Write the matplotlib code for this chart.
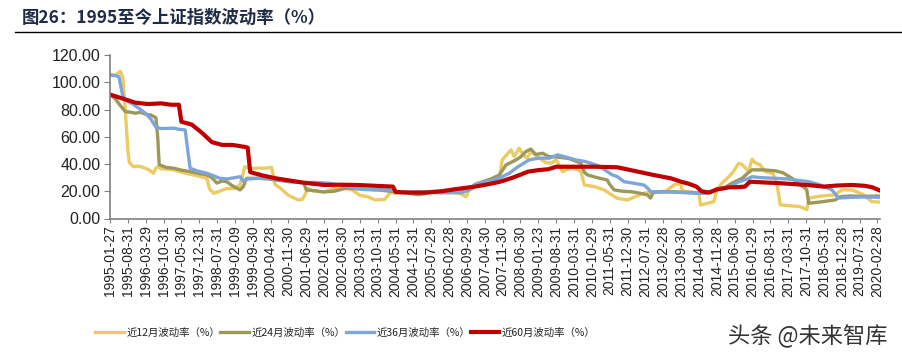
import matplotlib
matplotlib.use("Agg")
import matplotlib.pyplot as plt
from matplotlib.lines import Line2D

# ---- data (x = month index, 0 = 1995-01) ----
tick_labels = ["1995-01-27", "1995-08-31", "1996-03-29", "1996-10-31", "1997-05-30", "1997-12-31",
               "1998-07-31", "1999-02-09", "1999-09-30", "2000-04-28", "2000-11-30", "2001-06-29",
               "2002-01-31", "2002-08-30", "2003-03-31", "2003-10-31", "2004-05-31", "2004-12-31",
               "2005-07-29", "2006-02-28", "2006-09-29", "2007-04-30", "2007-11-30", "2008-06-30",
               "2009-01-23", "2009-08-31", "2010-03-31", "2010-10-29", "2011-05-31", "2011-12-30",
               "2012-07-31", "2013-02-28", "2013-09-30", "2014-04-30", "2014-11-28", "2015-06-30",
               "2016-01-29", "2016-08-31", "2017-03-31", "2017-10-31", "2018-05-31", "2018-12-28",
               "2019-07-31", "2020-02-28"]
tick_pos = [7 * i for i in range(len(tick_labels))]

series_names = ["近12月波动率（%）", "近24月波动率（%）", "近36月波动率（%）", "近60月波动率（%）"]

vol12_x = [0, 2, 4, 5, 6, 7, 7.6, 9.3, 11, 13, 15, 17.1, 18, 19, 20, 24.9, 28, 31.4, 35, 38, 39, 40.6, 43,
           45.8, 49, 51, 52.9, 55, 58, 61.4, 63.4, 64.7, 67, 70, 73.8, 75.5, 77.7, 80, 84, 88, 92, 95, 98,
           101, 104, 107.7, 110, 112, 115, 125, 132, 137, 139.7, 141, 144, 148, 152.7, 153.8, 157.3, 158.5,
           160.5, 162, 163.5, 165.1, 168.4, 171, 173, 175, 177.5, 180.8, 183, 184.7, 186, 190, 193.8, 197,
           199, 203, 206, 209.4, 213, 218, 221.2, 223.8, 224.5, 228, 231, 231.6, 234, 236.8, 238, 240, 241.4,
           244, 246.6, 248, 250.5, 251.8, 253, 255, 257, 260, 261.6, 262.9, 266, 270.7, 273.3, 274.3, 279,
           284.4, 287, 291, 295, 298.8, 302]
vol12_y = [106, 105, 108, 104, 80, 50, 41, 38, 38.5, 37.5, 36, 33.2, 37, 38, 36.5, 35.7, 34, 32.5, 31, 29.5,
           22, 18.5, 20, 22, 22, 24.6, 38, 36.5, 37, 37, 37.5, 25, 22, 17, 13.6, 14, 22, 20, 19.5, 22, 23.4,
           21, 17, 16, 13.6, 14, 19, 18.5, 19, 19, 19.5, 18.5, 16, 22, 26, 28, 29.5, 43, 50.4, 45.5, 51.6, 47,
           44.3, 49.1, 44.3, 41, 40.6, 43, 34.4, 37, 36, 34.4, 24.6, 23.4, 21, 17, 14.8, 13.6, 16, 18.5, 19.5,
           20, 24.6, 25.9, 20, 19.5, 18.5, 9.9, 11, 12.4, 21, 26, 28.3, 33.2, 40.6, 39.5, 34.4, 43.5, 41, 39.3,
           34.4, 33, 25, 10, 9.5, 8.7, 6.5, 15, 16.5, 17.3, 21, 21, 18, 12.4, 12]

vol24_x = [0, 2, 4, 6, 8, 10, 12, 14, 16, 18, 18.7, 19.3, 22, 25, 28, 31.4, 35, 38, 40, 41.9, 44, 45.8, 48, 51,
           52.3, 53.2, 53.6, 58, 62, 66, 70, 74, 76, 77, 80, 84, 88, 92, 95, 100, 105, 110, 115, 121, 126,
           132, 138, 142, 146.2, 150, 152.7, 155.3, 159.2, 161.2, 163.1, 165, 167, 169.7, 172, 176, 180,
           184.7, 186, 187.3, 191, 195, 196, 197.7, 201, 204.2, 208, 210.8, 212, 213, 216, 222, 228, 233, 238,
           241.4, 244, 247.9, 250, 251.8, 256, 261, 264, 267.5, 270.7, 272.5, 273.3, 274, 278, 282, 284.4,
           286.4, 290, 296, 302]
vol24_y = [91, 88, 83, 78.5, 78, 77.3, 78, 76.5, 76, 74, 60, 39.5, 37.5, 36.9, 35.5, 34.4, 33, 32, 30, 26,
           27.5, 27, 24, 21, 23.4, 28, 29.5, 29.5, 29, 28, 27, 26.5, 26, 21, 20.5, 19.5, 20, 22, 22, 21.5, 21,
           20, 19, 17.5, 19, 19, 19.5, 22, 27, 29.5, 32, 39.3, 43, 45.4, 49.1, 51, 47, 47.9, 45.5, 45, 44,
           40.6, 34, 32, 30, 28.3, 25, 21, 20, 19.7, 18.5, 17.3, 15, 19, 19.7, 19.5, 19, 18.5, 21, 23, 26,
           29.5, 33, 35.7, 35.7, 35, 33.5, 29.5, 24.6, 22.5, 21, 11.2, 12, 13, 13.6, 16, 16.5, 16.3, 16.5]

vol36_x = [0, 2, 3.5, 5, 6, 9, 12, 14, 16, 18, 20, 25, 27, 29.5, 30.5, 31.4, 34, 38, 41, 43, 46, 49, 51, 52.3,
           54, 58, 61, 66, 72, 76, 80, 85.6, 92, 98.6, 104, 109, 112, 114, 122, 130, 138, 141, 143, 147, 152,
           156.6, 160, 164.4, 168, 172.3, 175.5, 179, 182.7, 186, 188.6, 192.5, 194, 197, 199, 201.6, 205,
           209.4, 211, 212, 215, 220, 225, 230, 232.9, 236, 238, 241.4, 243.3, 246.6, 250, 251.8, 255, 261,
           266, 270, 274, 278, 280, 283.1, 284.5, 285.7, 290, 295, 302]
vol36_y = [105, 105, 104, 90, 87, 84, 80, 77, 73, 67, 66, 66.3, 65.5, 65, 50, 37, 35, 33.2, 31, 29.5, 29, 30,
           30.7, 27.5, 29, 29.5, 29.5, 28.5, 27, 26.3, 26.5, 25.9, 24, 21.4, 21, 21, 20, 19, 19.6, 19, 19, 21,
           25, 27, 29, 33.2, 38, 43, 44.3, 44.3, 46.7, 45, 43, 42, 40.6, 38, 35.7, 32, 30.7, 27, 26, 24.6, 22,
           19.7, 19.5, 19.5, 19, 18.5, 18.5, 19.5, 21, 22.2, 23.4, 27, 29, 30.7, 30, 29.5, 29, 28, 27, 25,
           23.5, 21, 18, 15, 15.5, 15.8, 15.6]

vol60_x = [0, 5, 10, 15, 20, 24, 27, 28, 32, 36, 40, 44, 48, 53, 54, 55, 60, 65, 70, 76, 84, 90, 97, 104, 111,
           112, 118, 123, 130, 135, 143, 148, 153, 158, 164, 168, 172, 175, 180, 190, 199, 203, 207, 213, 220,
           224, 227, 230, 232, 235, 238, 243, 246, 249, 251, 256, 262, 267, 274, 280, 285, 291, 296, 299, 302]
vol60_y = [91, 88, 85, 84, 84.5, 83.5, 83.5, 71, 69, 63, 56, 54, 54, 52.5, 52, 34, 31.5, 29.5, 28, 26.3,
           24.6, 24.8, 24.6, 24, 23.4, 19.5, 19, 19, 20, 21.4, 23.4, 25, 27, 30, 34.4, 35.5, 36.2, 38, 38, 38,
           37.6, 36, 34.4, 32, 29.5, 27, 25.5, 23.4, 20, 19, 21.4, 22.9, 23, 23.4, 27, 26.5, 26, 25.4, 24.5,
           23.4, 24.2, 24.6, 24, 22.9, 20.5]

y_ticks = [0, 20, 40, 60, 80, 100, 120]

colors = ["#EDCB62", "#9C9859", "#7EA5DA", "#C00000"]
widths = [2.4, 2.4, 2.4, 3.0]

# ---- figure ----
plt.rcParams['font.family'] = ['Liberation Sans', 'DejaVu Sans']
fig = plt.figure(figsize=(9.02, 3.61), dpi=100)
ax = fig.add_axes([110 / 902, 1 - 218.5 / 361, 770 / 902, 163.5 / 361])

xs = [vol12_x, vol24_x, vol36_x, vol60_x]
ys = [vol12_y, vol24_y, vol36_y, vol60_y]
handles = []
for x, y, c, w, n in zip(xs, ys, colors, widths, series_names):
    h, = ax.plot(x, y, color=c, lw=w, label=n, solid_joinstyle='round')
    handles.append(h)

ax.set_xlim(0, 302)
ax.set_ylim(0, 120)
ax.set_yticks(y_ticks)
ax.set_yticklabels([f"{v:.2f}" for v in y_ticks], fontsize=11.5, color="#222222")
ax.set_xticks(tick_pos)
ax.set_xticklabels(tick_labels, rotation=90, fontsize=10, color="#222222")
for s in ["top", "right"]:
    ax.spines[s].set_visible(False)
for s in ["left", "bottom"]:
    ax.spines[s].set_color("#808080")
    ax.spines[s].set_linewidth(1.2)
ax.tick_params(axis='y', length=4, color="#808080", pad=3)
ax.tick_params(axis='x', length=3, color="#808080", pad=2)

# title and rule
fig.text(22 / 902, 1 - 18 / 361, "图26：1995至今上证指数波动率（%）", fontsize=12.5, fontweight='bold',
         color="#1F2A44", family=['Noto Sans CJK SC', 'DejaVu Sans'], va='center', ha='left')
fig.add_artist(Line2D([15 / 902, 1.0], [1 - 32 / 361, 1 - 32 / 361], color="black", lw=1.0))

# legend
leg = fig.legend(handles=handles, loc='center left', bbox_to_anchor=(86 / 902, 1 - 333 / 361), ncol=4,
                 frameon=False, handlelength=2.7, handletextpad=0.25, columnspacing=0.05,
                 prop={'family': ['Noto Sans CJK SC', 'DejaVu Sans'], 'size': 7.5})
for t in leg.get_texts():
    t.set_color("#222222")

# watermark
fig.text(728 / 902, 1 - 336 / 361, "头条 @未来智库", fontsize=16, color="#333333",
         family=['Noto Sans CJK SC', 'DejaVu Sans'], va='center', ha='left', zorder=10)

fig.savefig("out.png", dpi=100, facecolor="white")
